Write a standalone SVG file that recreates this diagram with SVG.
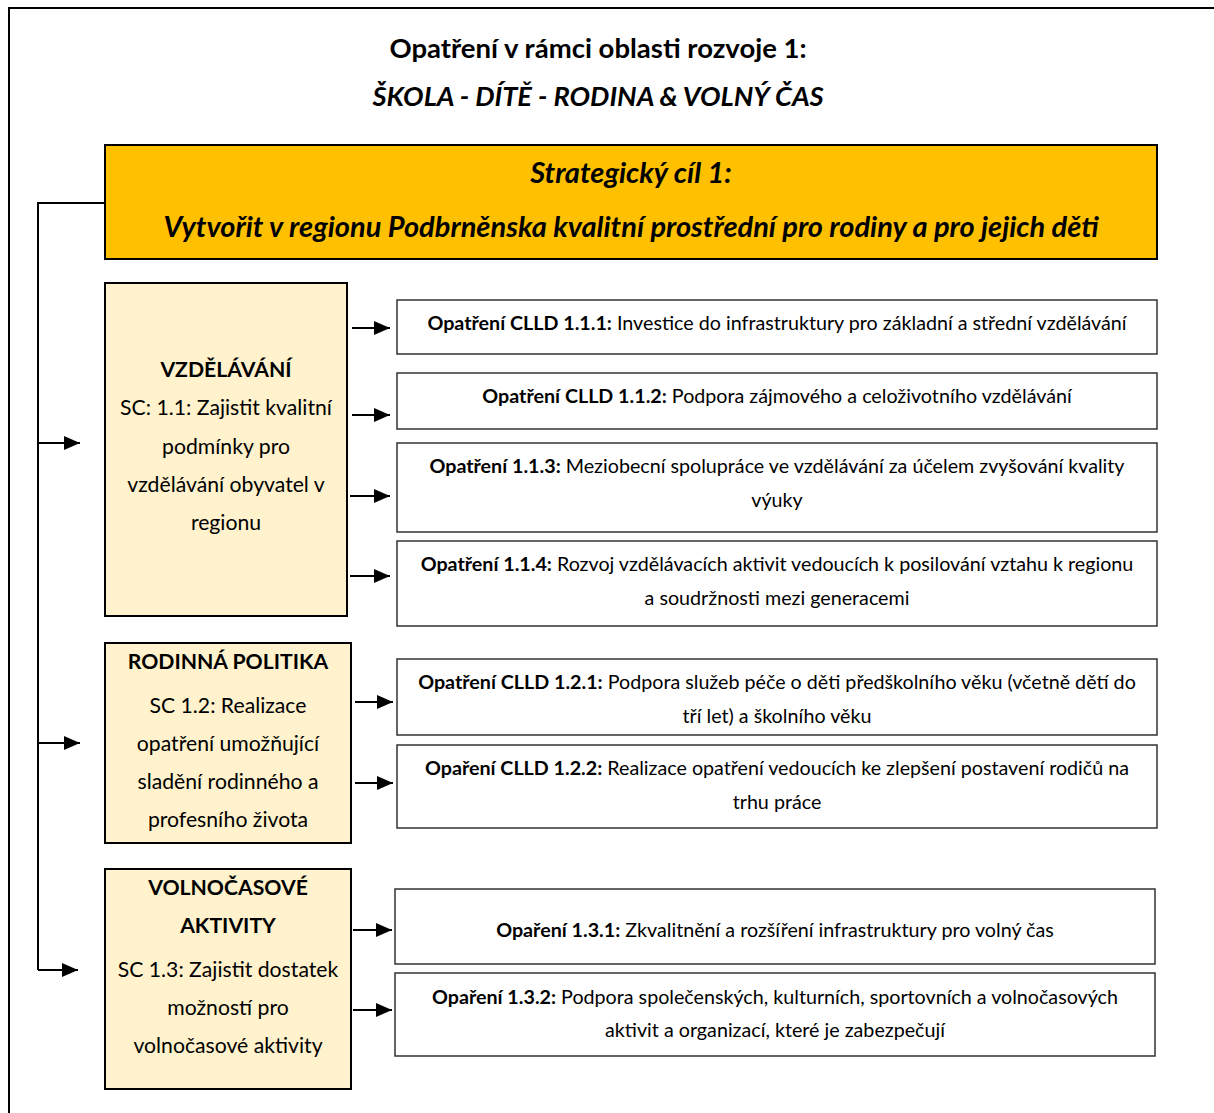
<svg xmlns="http://www.w3.org/2000/svg" width="1214" height="1113" viewBox="0 0 1214 1113">
<defs>
<marker id="arr" viewBox="0 0 16 14" refX="16" refY="7" markerWidth="16" markerHeight="14" markerUnits="userSpaceOnUse" orient="auto">
<path d="M0,0 L16,7 L0,14 Z" fill="#000"/>
</marker>
</defs>
<style>
text{font-family:Lato,"Open Sans","Liberation Sans",sans-serif;fill:#000;text-anchor:middle}
.t{font-size:27.5px;font-weight:bold}
.ti{font-size:27.3px;font-weight:bold;font-style:italic}
.gi{font-size:29px;font-weight:bold;font-style:italic}
.s{font-size:21.2px}
.m{font-size:19.7px}
.b{font-weight:bold}
.goal{fill:#FFC000;stroke:#000;stroke-width:2}
.sc{fill:#FFF2CC;stroke:#000;stroke-width:2}
.op{fill:#fff;stroke:#333;stroke-width:1.5}
.ln{fill:none;stroke:#000;stroke-width:2}
</style>
<rect width="1214" height="1113" fill="#fff"/>
<g id="frame">
<path class="ln" d="M9,1113 L9,8 L1214,8" stroke-width="2.5"/>
</g>
<g id="title">
<text class="t" x="598" y="58">Opatření v rámci oblasti rozvoje 1:</text>
<text class="ti" x="598" y="106">ŠKOLA - DÍTĚ - RODINA &amp; VOLNÝ ČAS</text>
</g>
<g id="goal">
<rect class="goal" x="105" y="145" width="1052" height="114"/>
<text class="gi" x="631" y="183">Strategický cíl 1:</text>
<text class="gi" x="631" y="237">Vytvořit v regionu Podbrněnska kvalitní prostřední pro rodiny a pro jejich děti</text>
</g>
<g id="sc11">
<rect class="sc" x="105" y="283" width="242" height="333"/>
<text class="s b" x="226" y="377">VZDĚLÁVÁNÍ</text>
<text class="s" x="226" y="415">SC: 1.1: Zajistit kvalitní</text>
<text class="s" x="226" y="454">podmínky pro</text>
<text class="s" x="226" y="492">vzdělávání obyvatel v</text>
<text class="s" x="226" y="530">regionu</text>
</g>
<g id="sc12">
<rect class="sc" x="105" y="643" width="246" height="200"/>
<text class="s b" x="228" y="669">RODINNÁ POLITIKA</text>
<text class="s" x="228" y="713">SC 1.2: Realizace</text>
<text class="s" x="228" y="751">opatření umožňující</text>
<text class="s" x="228" y="789">sladění rodinného a</text>
<text class="s" x="228" y="827">profesního života</text>
</g>
<g id="sc13">
<rect class="sc" x="105" y="869" width="246" height="220"/>
<text class="s b" x="228" y="895">VOLNOČASOVÉ</text>
<text class="s b" x="228" y="933">AKTIVITY</text>
<text class="s" x="228" y="977">SC 1.3: Zajistit dostatek</text>
<text class="s" x="228" y="1015">možností pro</text>
<text class="s" x="228" y="1053">volnočasové aktivity</text>
</g>
<g id="op111">
<rect class="op" x="397" y="300" width="760" height="54"/>
<text class="m" x="777" y="330"><tspan class="b">Opatření CLLD 1.1.1:</tspan> Investice do infrastruktury pro základní a střední vzdělávání</text>
</g>
<g id="op112">
<rect class="op" x="397" y="373" width="760" height="56"/>
<text class="m" x="777" y="403"><tspan class="b">Opatření CLLD 1.1.2:</tspan> Podpora zájmového a celoživotního vzdělávání</text>
</g>
<g id="op113">
<rect class="op" x="397" y="443" width="760" height="89"/>
<text class="m" x="777" y="473"><tspan class="b">Opatření 1.1.3:</tspan> Meziobecní spolupráce ve vzdělávání za účelem zvyšování kvality</text>
<text class="m" x="777" y="507">výuky</text>
</g>
<g id="op114">
<rect class="op" x="397" y="541" width="760" height="85"/>
<text class="m" x="777" y="571"><tspan class="b">Opatření 1.1.4:</tspan> Rozvoj vzdělávacích aktivit vedoucích k posilování vztahu k regionu</text>
<text class="m" x="777" y="605">a soudržnosti mezi generacemi</text>
</g>
<g id="op121">
<rect class="op" x="397" y="659" width="760" height="76"/>
<text class="m" x="777" y="689"><tspan class="b">Opatření CLLD 1.2.1:</tspan> Podpora služeb péče o děti předškolního věku (včetně dětí do</text>
<text class="m" x="777" y="723">tří let) a školního věku</text>
</g>
<g id="op122">
<rect class="op" x="397" y="745" width="760" height="83"/>
<text class="m" x="777" y="775"><tspan class="b">Opaření CLLD 1.2.2:</tspan> Realizace opatření vedoucích ke zlepšení postavení rodičů na</text>
<text class="m" x="777" y="809">trhu práce</text>
</g>
<g id="op131">
<rect class="op" x="395" y="889" width="760" height="75"/>
<text class="m" x="775" y="937"><tspan class="b">Opaření 1.3.1:</tspan> Zkvalitnění a rozšíření infrastruktury pro volný čas</text>
</g>
<g id="op132">
<rect class="op" x="395" y="973" width="760" height="83"/>
<text class="m" x="775" y="1004"><tspan class="b">Opaření 1.3.2:</tspan> Podpora společenských, kulturních, sportovních a volnočasových</text>
<text class="m" x="775" y="1037">aktivit a organizací, které je zabezpečují</text>
</g>
<g id="connectors">
<path class="ln" d="M105,203 L38,203 L38,970"/>
<path class="ln" d="M38,443 L80,443" marker-end="url(#arr)"/>
<path class="ln" d="M38,743 L80,743" marker-end="url(#arr)"/>
<path class="ln" d="M38,970 L78,970" marker-end="url(#arr)"/>
<path class="ln" d="M352,328 L390,328" marker-end="url(#arr)"/>
<path class="ln" d="M352,415 L390,415" marker-end="url(#arr)"/>
<path class="ln" d="M350,496 L390,496" marker-end="url(#arr)"/>
<path class="ln" d="M350,576 L390,576" marker-end="url(#arr)"/>
<path class="ln" d="M355,702 L393,702" marker-end="url(#arr)"/>
<path class="ln" d="M355,783 L393,783" marker-end="url(#arr)"/>
<path class="ln" d="M353,930 L392,930" marker-end="url(#arr)"/>
<path class="ln" d="M353,1010 L392,1010" marker-end="url(#arr)"/>
</g>
</svg>
